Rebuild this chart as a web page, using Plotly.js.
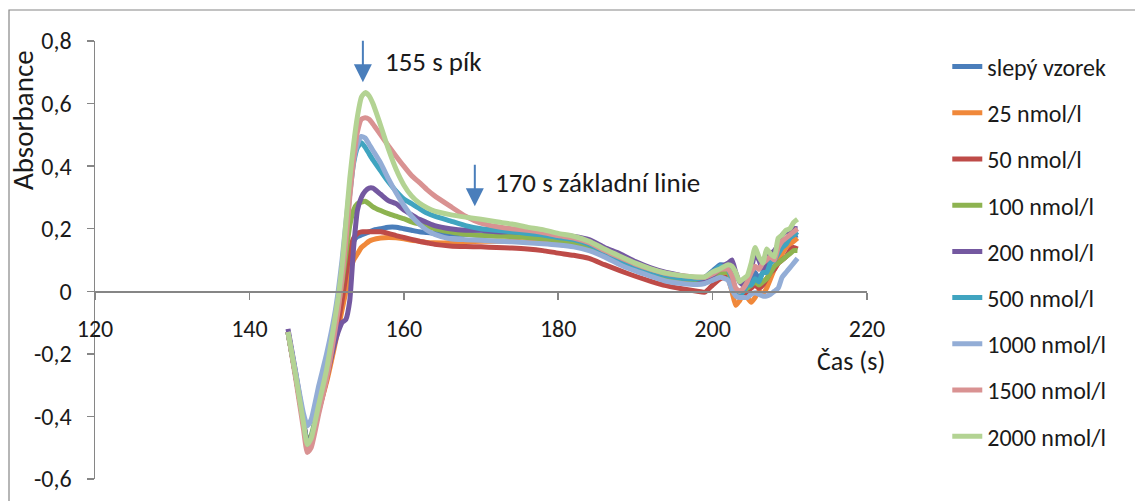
<!DOCTYPE html>
<html>
<head>
<meta charset="utf-8">
<script src="https://cdn.plot.ly/plotly-3.0.1.min.js"></script>
<style>html,body{margin:0;padding:0;background:#fff;}#chart{width:1135px;height:501px;}</style>
</head>
<body>
<div id="chart"></div>
<script>
// Time (s)
const time = [145,146,147,147.5,148,149,150,151,151.5,152,152.5,153,153.5,154,154.5,155,155.5,156,157,158,159,160,161,162,163,164,166,168,170,172,174,176,178,180,182,184,186,188,190,192,194,196,198,199,200,201,202,202.5,203,203.5,204,204.5,205,205.5,206,206.5,207,207.5,208,208.5,209,209.5,210,210.5,211];

const seriesNames = ["slepý vzorek","25 nmol/l","50 nmol/l","100 nmol/l","200 nmol/l","500 nmol/l","1000 nmol/l","1500 nmol/l","2000 nmol/l"];
const seriesColors = ["#4a7ebb","#f0883a","#be4b48","#8db350","#7458a0","#40a4c0","#93add6","#d99292","#b3d393"];

const blank = [-0.13,-0.27,-0.42,-0.48,-0.47,-0.37,-0.27,-0.15,-0.09,-0.02,0.05,0.12,0.16,0.175,0.18,0.185,0.19,0.195,0.2,0.205,0.205,0.2,0.195,0.19,0.188,0.185,0.183,0.182,0.18,0.178,0.178,0.176,0.172,0.166,0.16,0.15,0.128,0.105,0.085,0.066,0.052,0.042,0.04,0.045,0.065,0.085,0.08,0.05,0.0,-0.02,-0.01,0.0,0.03,0.06,0.04,0.06,0.08,0.1,0.11,0.13,0.15,0.16,0.17,0.175,0.18];
const c25 = [-0.13,-0.27,-0.42,-0.48,-0.47,-0.38,-0.29,-0.18,-0.12,-0.06,0.0,0.06,0.1,0.12,0.14,0.15,0.16,0.165,0.17,0.172,0.171,0.168,0.163,0.16,0.156,0.155,0.155,0.158,0.16,0.16,0.16,0.158,0.155,0.15,0.145,0.135,0.115,0.092,0.072,0.055,0.042,0.035,0.032,0.035,0.045,0.06,0.04,0.0,-0.045,-0.03,-0.01,-0.02,-0.035,-0.02,0.0,-0.01,0.01,0.04,0.07,0.09,0.12,0.14,0.15,0.16,0.17];
const c50 = [-0.13,-0.27,-0.42,-0.49,-0.48,-0.38,-0.28,-0.16,-0.1,-0.03,0.05,0.13,0.17,0.185,0.19,0.19,0.19,0.19,0.19,0.185,0.178,0.172,0.166,0.16,0.155,0.15,0.145,0.143,0.142,0.14,0.138,0.135,0.13,0.122,0.115,0.105,0.085,0.066,0.048,0.032,0.018,0.008,0.0,-0.003,0.02,0.04,0.045,0.03,0.0,-0.02,-0.01,0.0,0.01,0.02,0.01,0.02,0.04,0.06,0.07,0.09,0.1,0.11,0.13,0.14,0.135];
const c100 = [-0.13,-0.27,-0.42,-0.48,-0.46,-0.36,-0.25,-0.12,-0.05,0.03,0.12,0.21,0.26,0.28,0.285,0.288,0.28,0.27,0.258,0.248,0.24,0.232,0.222,0.215,0.208,0.2,0.19,0.182,0.178,0.176,0.175,0.172,0.168,0.162,0.155,0.143,0.12,0.098,0.078,0.06,0.047,0.04,0.035,0.035,0.045,0.06,0.06,0.03,0.0,-0.01,0.0,0.01,0.02,0.03,0.02,0.03,0.04,0.06,0.08,0.09,0.1,0.11,0.12,0.13,0.13];
const c200 = [-0.12,-0.26,-0.41,-0.48,-0.47,-0.37,-0.27,-0.17,-0.13,-0.1,-0.09,-0.03,0.14,0.26,0.3,0.32,0.33,0.33,0.31,0.29,0.28,0.26,0.245,0.23,0.22,0.21,0.2,0.195,0.195,0.19,0.19,0.19,0.185,0.18,0.175,0.165,0.14,0.12,0.095,0.075,0.06,0.05,0.04,0.035,0.05,0.075,0.09,0.1,0.06,0.03,0.02,0.04,0.07,0.12,0.1,0.07,0.11,0.12,0.13,0.15,0.18,0.19,0.19,0.2,0.2];
const c500 = [-0.13,-0.27,-0.42,-0.49,-0.47,-0.36,-0.25,-0.11,-0.03,0.07,0.19,0.31,0.41,0.46,0.475,0.46,0.44,0.42,0.385,0.35,0.32,0.295,0.28,0.265,0.25,0.24,0.225,0.21,0.2,0.195,0.19,0.185,0.18,0.172,0.165,0.15,0.125,0.1,0.08,0.063,0.05,0.042,0.04,0.045,0.06,0.08,0.07,0.04,0.0,-0.01,0.0,0.02,0.02,0.04,0.03,0.06,0.06,0.09,0.1,0.12,0.14,0.15,0.17,0.18,0.19];
const c1000 = [-0.13,-0.26,-0.39,-0.43,-0.41,-0.3,-0.2,-0.08,0.0,0.1,0.22,0.33,0.42,0.47,0.495,0.49,0.47,0.45,0.41,0.36,0.315,0.275,0.24,0.215,0.195,0.182,0.168,0.165,0.163,0.16,0.158,0.155,0.152,0.148,0.142,0.13,0.11,0.085,0.065,0.048,0.032,0.025,0.022,0.025,0.035,0.045,0.035,0.005,-0.015,-0.02,-0.02,-0.02,-0.01,-0.005,-0.01,-0.015,-0.015,-0.01,0.0,0.01,0.045,0.06,0.075,0.09,0.105];
const c1500 = [-0.13,-0.28,-0.44,-0.515,-0.5,-0.39,-0.28,-0.14,-0.06,0.04,0.16,0.3,0.42,0.51,0.55,0.555,0.55,0.535,0.5,0.465,0.432,0.4,0.37,0.348,0.325,0.305,0.272,0.24,0.218,0.207,0.2,0.195,0.188,0.178,0.17,0.155,0.13,0.108,0.087,0.07,0.057,0.05,0.045,0.045,0.055,0.07,0.07,0.05,0.01,0.0,0.01,0.03,0.06,0.08,0.07,0.09,0.1,0.11,0.1,0.14,0.16,0.17,0.18,0.19,0.2];
const c2000 = [-0.13,-0.27,-0.42,-0.49,-0.47,-0.36,-0.25,-0.1,-0.02,0.08,0.22,0.36,0.47,0.56,0.62,0.635,0.625,0.6,0.53,0.455,0.39,0.34,0.305,0.282,0.267,0.256,0.245,0.237,0.23,0.222,0.215,0.205,0.197,0.185,0.176,0.16,0.135,0.112,0.09,0.072,0.058,0.05,0.046,0.046,0.062,0.072,0.085,0.08,0.06,0.03,0.04,0.05,0.09,0.14,0.11,0.09,0.135,0.12,0.11,0.17,0.18,0.195,0.2,0.22,0.23];

const seriesValues = [blank,c25,c50,c100,c200,c500,c1000,c1500,c2000];

const xTickVals = [120,140,160,180,200,220];
const xTickText = ["120","140","160","180","200","220"];
const yTickVals = [-0.6,-0.4,-0.2,0,0.2,0.4,0.6,0.8];
const yTickText = ["-0,6","-0,4","-0,2","0","0,2","0,4","0,6","0,8"];

const FONT = "Carlito, Lato, 'Open Sans', sans-serif";
const TXT = "#1a1a1a";
const AX = "#868686";

const traces = seriesNames.map((name, i) => ({
  type: "scatter",
  mode: "lines",
  name: name,
  legendgroup: "g" + i,
  x: time,
  y: seriesValues[i],
  line: {color: seriesColors[i], width: 5, shape: "spline", smoothing: 0.5},
  hoverinfo: "skip"
}));

const yMin = -0.6, yMax = 0.8;

const layout = {
  width: 1135,
  height: 501,
  margin: {l: 95, r: 268, t: 41, b: 22},
  paper_bgcolor: "#ffffff",
  plot_bgcolor: "#ffffff",
  font: {family: FONT, color: TXT, size: 24},
  showlegend: true,
  legend: {
    x: 1.104, xanchor: "left", y: 0.992, yanchor: "top",
    font: {family: FONT, size: 24, color: TXT},
    tracegroupgap: 12,
    bgcolor: "rgba(0,0,0,0)"
  },
  xaxis: {
    range: [120, 220],
    anchor: "free",
    position: (0 - yMin) / (yMax - yMin),
    showgrid: false, zeroline: false,
    showline: true, linecolor: AX, linewidth: 1.5,
    ticks: "outside", ticklen: 7, tickcolor: AX, tickwidth: 1.5,
    tickvals: xTickVals, ticktext: xTickText,
    ticklabelstandoff: 8,
    tickfont: {family: FONT, size: 24, color: TXT}
  },
  yaxis: {
    range: [yMin, yMax],
    showgrid: false, zeroline: false,
    showline: true, linecolor: AX, linewidth: 1.5,
    ticks: "outside", ticklen: 7, tickcolor: AX, tickwidth: 1.5,
    tickvals: yTickVals, ticktext: yTickText,
    ticklabelstandoff: 10,
    tickfont: {family: FONT, size: 24, color: TXT}
  },
  shapes: [{
    type: "rect", xref: "paper", yref: "paper",
    x0: -0.1114, x1: 1.5, y0: -0.3, y1: 1.0708,
    line: {color: AX, width: 1.2}, fillcolor: "rgba(0,0,0,0)", layer: "below"
  }],
  annotations: [
    {x: 154.7, y: 0.668, xref: "x", yref: "y", text: "", showarrow: true,
     ax: 0, ay: -43, arrowhead: 2, arrowsize: 1.8, arrowwidth: 2, arrowcolor: "#4a7ebb", standoff: 0},
    {x: 157.3, y: 0.735, xref: "x", yref: "y", text: "155 s pík", showarrow: false,
     xanchor: "left", yanchor: "middle", font: {family: FONT, size: 27, color: TXT}},
    {x: 169.2, y: 0.272, xref: "x", yref: "y", text: "", showarrow: true,
     ax: 0, ay: -43, arrowhead: 2, arrowsize: 1.8, arrowwidth: 2, arrowcolor: "#4a7ebb", standoff: 0},
    {x: 171.55, y: 0.348, xref: "x", yref: "y", text: "170 s základní linie", showarrow: false,
     xanchor: "left", yanchor: "middle", font: {family: FONT, size: 27, color: TXT}},
    {x: -0.0933, y: 0.8195, xref: "paper", yref: "paper", text: "Absorbance", showarrow: false,
     textangle: -90, xanchor: "center", yanchor: "middle", font: {family: FONT, size: 29, color: TXT}},
    {x: 217.9, y: -0.222, xref: "x", yref: "y", text: "Čas (s)", showarrow: false,
     xanchor: "center", yanchor: "middle", font: {family: FONT, size: 26, color: TXT}}
  ]
};

Plotly.newPlot("chart", traces, layout, {displayModeBar: false, staticPlot: true});
</script>
</body>
</html>
